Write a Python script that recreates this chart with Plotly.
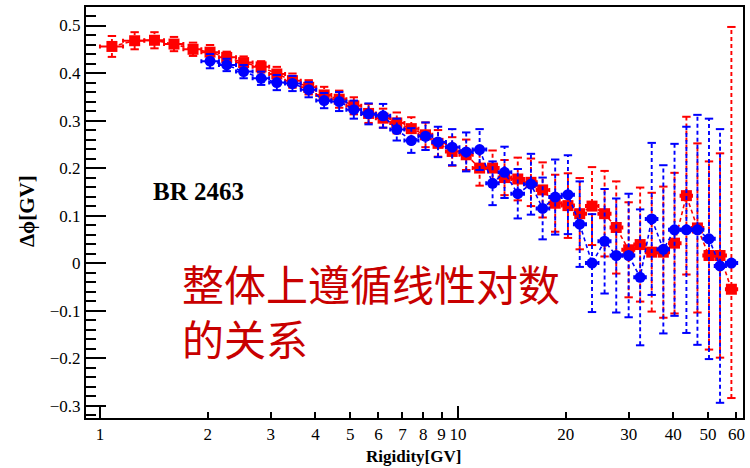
import plotly.graph_objects as go

# ---------------- data ----------------
rigidity = [1.08, 1.25, 1.42, 1.61, 1.82, 2.03, 2.26, 2.52, 2.82, 3.12,
            3.45, 3.83, 4.23, 4.66, 5.12, 5.63, 6.18, 6.75, 7.41, 8.12,
            8.80, 9.64, 10.55, 11.5, 12.5, 13.5, 14.7, 16.0, 17.25, 18.7,
            20.3, 21.9, 23.7, 25.7, 27.7, 30.0, 32.3, 34.8, 37.5, 40.3,
            43.5, 46.7, 50.3, 54.0, 58.1]
bin_edges = [1.00, 1.16, 1.33, 1.51, 1.71, 1.92, 2.15, 2.40, 2.67, 2.97,
             3.29, 3.64, 4.02, 4.43, 4.88, 5.37, 5.90, 6.47, 7.09, 7.76,
             8.48, 9.26, 10.1, 11.0, 12.0, 13.0, 14.1, 15.3, 16.6, 18.0,
             19.5, 21.1, 22.8, 24.7, 26.7, 28.8, 31.1, 33.5, 36.1, 38.9,
             41.9, 45.1, 48.5, 52.2, 56.1, 60.3]

red_dphi = [0.456, 0.468, 0.469, 0.461, 0.450, 0.444, 0.433, 0.422, 0.413, 0.398,
            0.384, 0.370, 0.354, 0.345, 0.331, 0.315, 0.305, 0.295, 0.283, 0.270,
            0.252, 0.235, 0.228, 0.200, 0.200, 0.180, 0.177, 0.170, 0.154, 0.126,
            0.121, 0.104, 0.120, 0.104, 0.075, 0.028, 0.039, 0.023, 0.023, 0.042,
            0.142, 0.074, 0.016, 0.016, -0.055]
red_err_up = [0.022, 0.018, 0.017, 0.015, 0.014, 0.015, 0.012, 0.013, 0.012, 0.015,
              0.015, 0.015, 0.017, 0.018, 0.018, 0.020, 0.020, 0.022, 0.024, 0.026,
              0.028, 0.030, 0.032, 0.037, 0.037, 0.037, 0.045, 0.050, 0.058, 0.060,
              0.068, 0.075, 0.082, 0.090, 0.097, 0.100, 0.120, 0.125, 0.138, 0.148,
              0.166, 0.178, 0.198, 0.215, 0.552]
red_err_dn = [0.022, 0.018, 0.017, 0.015, 0.014, 0.015, 0.012, 0.013, 0.012, 0.015,
              0.015, 0.015, 0.017, 0.018, 0.018, 0.020, 0.020, 0.022, 0.024, 0.026,
              0.028, 0.030, 0.032, 0.037, 0.037, 0.037, 0.045, 0.050, 0.058, 0.060,
              0.068, 0.075, 0.082, 0.090, 0.097, 0.100, 0.120, 0.125, 0.138, 0.148,
              0.166, 0.178, 0.198, 0.215, 0.229]

blue_dphi = [None, None, None, None, None, 0.425, 0.417, 0.403, 0.389, 0.380,
             0.378, 0.365, 0.342, 0.340, 0.323, 0.314, 0.310, 0.281, 0.258, 0.267,
             0.255, 0.244, 0.234, 0.239, 0.168, 0.191, 0.146, 0.166, 0.115, 0.139,
             0.144, 0.082, 0.000, 0.046, 0.016, 0.016, -0.030, 0.093, 0.029, 0.070,
             0.070, 0.070, 0.051, -0.006, 0.000]
blue_err = [0, 0, 0, 0, 0, 0.015, 0.013, 0.014, 0.014, 0.016,
            0.016, 0.016, 0.016, 0.020, 0.019, 0.022, 0.025, 0.023, 0.026, 0.029,
            0.032, 0.038, 0.041, 0.043, 0.046, 0.054, 0.052, 0.064, 0.065, 0.079,
            0.083, 0.090, 0.103, 0.110, 0.120, 0.130, 0.143, 0.160, 0.177, 0.181,
            0.217, 0.242, 0.253, 0.288, 0.0]

x_tick_vals = [1, 2, 3, 4, 5, 6, 7, 8, 9, 10, 20, 30, 40, 50, 60]
x_tick_text = ["1", "2", "3", "4", "5", "6", "7", "8", "9", "10", "20", "30", "40", "50", "60"]
y_tick_vals = [-0.3, -0.2, -0.1, 0.0, 0.1, 0.2, 0.3, 0.4, 0.5]
y_tick_text = ["\u22120.3", "\u22120.2", "\u22120.1", "0", "0.1", "0.2", "0.3", "0.4", "0.5"]

RED = "#ff0000"
BLUE = "#0000ff"
DASH = "4px,3px"

x_minus = [c - lo for c, lo in zip(rigidity, bin_edges[:-1])]
x_plus = [hi - c for c, hi in zip(rigidity, bin_edges[1:])]


def vertical_bars(xs, ys, up, dn):
    lx, ly, cx, cy = [], [], [], []
    for x, y, u, d in zip(xs, ys, up, dn):
        if y is None or (u == 0 and d == 0):
            continue
        lx += [x, x, None]
        ly += [y - d, y + u, None]
        cx += [x, x]
        cy += [y - d, y + u]
    return lx, ly, cx, cy


fig = go.Figure()

for vals, up, dn, col, sym, size in [
    (red_dphi, red_err_up, red_err_dn, RED, "square", 11),
    (blue_dphi, blue_err, blue_err, BLUE, "circle", 11),
]:
    lx, ly, cx, cy = vertical_bars(rigidity, vals, up, dn)
    fig.add_trace(go.Scatter(x=lx, y=ly, mode="lines",
                             line=dict(color=col, width=1.9, dash=DASH),
                             hoverinfo="skip", showlegend=False))
    fig.add_trace(go.Scatter(x=cx, y=cy, mode="markers",
                             marker=dict(symbol="line-ew", size=6,
                                         line=dict(color=col, width=2)),
                             hoverinfo="skip", showlegend=False))
    fig.add_trace(go.Scatter(x=rigidity, y=vals, mode="lines+markers",
                             line=dict(color=col, width=1.6, dash=DASH),
                             marker=dict(symbol=sym, size=size, color=col),
                             error_x=dict(type="data", symmetric=False,
                                          array=x_plus, arrayminus=x_minus,
                                          color=col, thickness=2, width=2),
                             connectgaps=False, showlegend=False))

# invisible helper trace for the long-tick overlay axis
fig.add_trace(go.Scatter(x=[rigidity[0]], y=[red_dphi[0]], xaxis="x2",
                         mode="markers", marker=dict(opacity=0),
                         hoverinfo="skip", showlegend=False))

xr = [-0.039, 1.7966]
tick_font = dict(family="Liberation Serif", size=17, color="black")

fig.update_layout(
    width=750, height=468,
    margin=dict(l=86, r=5, t=7, b=50),
    paper_bgcolor="white", plot_bgcolor="white",
    xaxis=dict(type="log", range=xr, tickmode="array",
               tickvals=x_tick_vals, ticktext=x_tick_text,
               ticks="inside", ticklen=6, tickwidth=2, tickcolor="black",
               showline=True, linewidth=2, linecolor="black", mirror=True,
               showgrid=False, zeroline=False, tickangle=0, tickfont=tick_font),
    xaxis2=dict(type="log", range=xr, overlaying="x", anchor="y", side="bottom",
                tickmode="array", tickvals=[1, 10], ticks="inside", ticklen=12,
                tickwidth=2, tickcolor="black", showticklabels=False,
                showline=False, showgrid=False, zeroline=False),
    yaxis=dict(range=[-0.326, 0.539], tickmode="array",
               tickvals=y_tick_vals, ticktext=y_tick_text,
               ticks="inside", ticklen=20, tickwidth=2, tickcolor="black",
               minor=dict(ticks="inside", ticklen=10, tickwidth=2,
                          tickcolor="black", dtick=0.02, tick0=0),
               showline=True, linewidth=2, linecolor="black", mirror=True,
               showgrid=False, zeroline=False, tickfont=tick_font),
    annotations=[
        dict(text="<b>Rigidity[GV]</b>", xref="paper", yref="paper",
             x=0.499, y=-0.0925, xanchor="center", yanchor="middle",
             showarrow=False,
             font=dict(family="Liberation Serif", size=17, color="black")),
        dict(text="<b>\u0394\u03d5[GV]</b>", xref="paper", yref="paper",
             x=-0.0895, y=0.504, xanchor="center", yanchor="middle",
             textangle=-90, showarrow=False,
             font=dict(family="Liberation Serif", size=21, color="black")),
        dict(text="<b>BR 2463</b>", xref="paper", yref="paper",
             x=0.1715, y=0.552, xanchor="center", yanchor="middle",
             showarrow=False,
             font=dict(family="Liberation Serif", size=25, color="black")),
        dict(text="整体上遵循线性对数<br>的关系", xref="paper", yref="paper",
             x=0.1426, y=0.2616, xanchor="left", yanchor="middle",
             align="left", showarrow=False,
             font=dict(family="Noto Sans CJK SC", size=42, color="#c80000")),
    ],
)

fig.write_html("out.html")
